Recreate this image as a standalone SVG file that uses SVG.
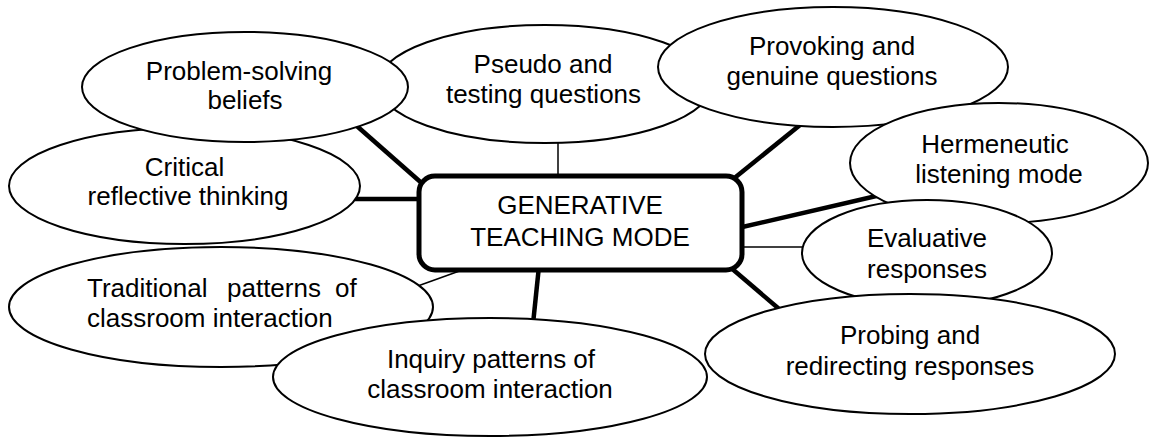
<svg xmlns="http://www.w3.org/2000/svg" width="1149" height="438" viewBox="0 0 1149 438">
<style>
.n{fill:#fff;stroke:#000;stroke-width:2}
.t{font-family:"Liberation Sans",Arial,sans-serif;font-size:26px;fill:#000;text-anchor:middle}
.k{stroke:#000;stroke-width:4.5;fill:none}
.h{stroke:#000;stroke-width:1.5;fill:none}
</style>
<rect width="1149" height="438" fill="#fff"/>
<g id="connectors">
<line class="k" x1="350" y1="120" x2="425" y2="186"/>
<line class="k" x1="355" y1="199" x2="422" y2="199"/>
<line class="h" x1="558" y1="140" x2="558" y2="178"/>
<line class="k" x1="805" y1="121" x2="732" y2="180"/>
<line class="k" x1="738" y1="228" x2="885" y2="194"/>
<line class="h" x1="738" y1="247" x2="806" y2="247"/>
<line class="k" x1="730" y1="267" x2="785" y2="314"/>
<line class="k" x1="539" y1="266" x2="533" y2="324"/>
<line class="h" x1="465" y1="269" x2="415" y2="287"/>
</g>
<g id="critical">
<ellipse class="n" cx="184.5" cy="186" rx="175.5" ry="58"/>
<text class="t"><tspan x="184.5" y="176">Critical</tspan><tspan x="188" y="205">reflective thinking</tspan></text>
</g>
<g id="traditional">
<ellipse class="n" cx="221" cy="307" rx="212" ry="60"/>
<text class="t" style="text-anchor:start"><tspan x="87" y="297">Traditional</tspan><tspan x="227" y="297">patterns</tspan><tspan x="335" y="297">of</tspan><tspan x="87" y="327">classroom interaction</tspan></text>
</g>
<g id="pseudo">
<ellipse class="n" cx="545" cy="84" rx="167" ry="59"/>
<text class="t"><tspan x="543" y="73">Pseudo and</tspan><tspan x="543.5" y="103">testing questions</tspan></text>
</g>
<g id="problem">
<ellipse class="n" cx="245" cy="87" rx="163" ry="55"/>
<text class="t"><tspan x="239" y="80">Problem-solving</tspan><tspan x="245" y="109">beliefs</tspan></text>
</g>
<g id="provoking">
<ellipse class="n" cx="833" cy="67" rx="175" ry="60"/>
<text class="t"><tspan x="832" y="55">Provoking and</tspan><tspan x="832" y="85">genuine questions</tspan></text>
</g>
<g id="hermeneutic">
<ellipse class="n" cx="999" cy="163" rx="149" ry="60"/>
<text class="t"><tspan x="995" y="153">Hermeneutic</tspan><tspan x="999" y="183">listening mode</tspan></text>
</g>
<g id="evaluative">
<ellipse class="n" cx="927" cy="253" rx="125" ry="53"/>
<text class="t"><tspan x="927" y="247">Evaluative</tspan><tspan x="927" y="278">responses</tspan></text>
</g>
<g id="probing">
<ellipse class="n" cx="910" cy="354" rx="205" ry="60"/>
<text class="t"><tspan x="910" y="344">Probing and</tspan><tspan x="910" y="375">redirecting responses</tspan></text>
</g>
<g id="inquiry">
<ellipse class="n" cx="490" cy="377" rx="217" ry="59"/>
<text class="t"><tspan x="491" y="368">Inquiry patterns of</tspan><tspan x="490" y="398">classroom interaction</tspan></text>
</g>
<g id="center">
<rect x="419" y="176" width="323" height="94" rx="16" ry="16" fill="#fff" stroke="#000" stroke-width="5"/>
<text class="t"><tspan x="580" y="214">GENERATIVE</tspan><tspan x="580" y="246">TEACHING MODE</tspan></text>
</g>
</svg>
